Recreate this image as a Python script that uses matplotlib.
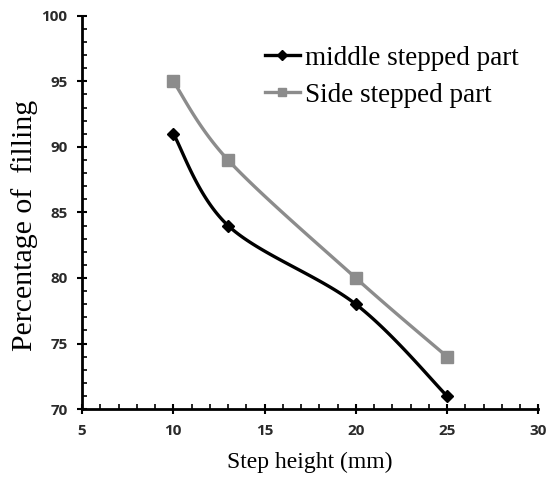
import numpy as np
import matplotlib
matplotlib.use("Agg")
from matplotlib import pyplot as plt
from matplotlib.ticker import MultipleLocator

step_height = [10, 13, 20, 25]
middle_fill = [91, 84, 78, 71]
side_fill = [95, 89, 80, 74]


def smooth(xs, ys, n=40):
    """ Excel-style smoothed line: cubic Bezier segments with 1/6 tangent handles """
    xs = np.asarray(xs, float)
    ys = np.asarray(ys, float)
    pts = np.column_stack([xs, ys])
    out = []
    t = np.linspace(0, 1, n)[:, None]
    for i in range(len(pts) - 1):
        p0 = pts[max(i - 1, 0)]
        p1 = pts[i]
        p2 = pts[i + 1]
        p3 = pts[min(i + 2, len(pts) - 1)]
        c1 = p1 + (p2 - p0) / 6
        c2 = p2 - (p3 - p1) / 6
        seg = ((1 - t) ** 3) * p1 + 3 * ((1 - t) ** 2) * t * c1 \
            + 3 * (1 - t) * t ** 2 * c2 + t ** 3 * p2
        out.append(seg)
    curve = np.vstack(out)
    return curve[:, 0], curve[:, 1]


fig = plt.figure(figsize=(5.47, 4.79), dpi=100)
ax = fig.add_axes([0.150, 0.146, 0.834, 0.821])

sx, sy = smooth(step_height, middle_fill)
ax.plot(sx, sy, color="black", lw=2.4, zorder=3)
ax.plot(step_height, middle_fill, ls="none", marker="D", ms=6, color="black", zorder=4)
gx, gy = smooth(step_height, side_fill)
ax.plot(gx, gy, color="#8c8c8c", lw=2.4, zorder=2)
ax.plot(step_height, side_fill, ls="none", marker="s", ms=8.5, color="#8c8c8c", zorder=2)

# legend entries
ax.plot([], [], color="black", lw=2.4, marker="D", ms=5, label="middle stepped part")
ax.plot([], [], color="#8c8c8c", lw=2.4, marker="s", ms=6, label="Side stepped part")
ax.legend(loc="upper left", bbox_to_anchor=(0.377, 0.952), frameon=False,
          prop={"family": "Liberation Serif", "size": 19.5}, handlelength=1.3,
          handletextpad=0.2, labelspacing=0.45, borderaxespad=0)

ax.set_xlim(5, 30)
ax.set_ylim(70, 100)
ax.xaxis.set_major_locator(MultipleLocator(5))
ax.xaxis.set_minor_locator(MultipleLocator(1))
ax.yaxis.set_major_locator(MultipleLocator(5))
ax.yaxis.set_minor_locator(MultipleLocator(1))
ax.tick_params(which="major", direction="inout", length=7, width=1.5, labelsize=11,
               labelcolor="#2a2a2a", pad=7)
ax.tick_params(which="minor", direction="in", length=3.5, width=1.2)
for lab in ax.get_xticklabels() + ax.get_yticklabels():
    lab.set_family("Open Sans")
    lab.set_fontweight("bold")

for side in ("top", "right"):
    ax.spines[side].set_visible(False)
for side in ("left", "bottom"):
    ax.spines[side].set_linewidth(2)

ax.set_xlabel("Step height (mm)", family="Liberation Serif", fontsize=17, labelpad=10)
ax.set_ylabel("Percentage of  filling", family="Liberation Serif", fontsize=21.5)
ax.yaxis.set_label_coords(-0.097, 0.468)

fig.savefig("out.png", dpi=100)
